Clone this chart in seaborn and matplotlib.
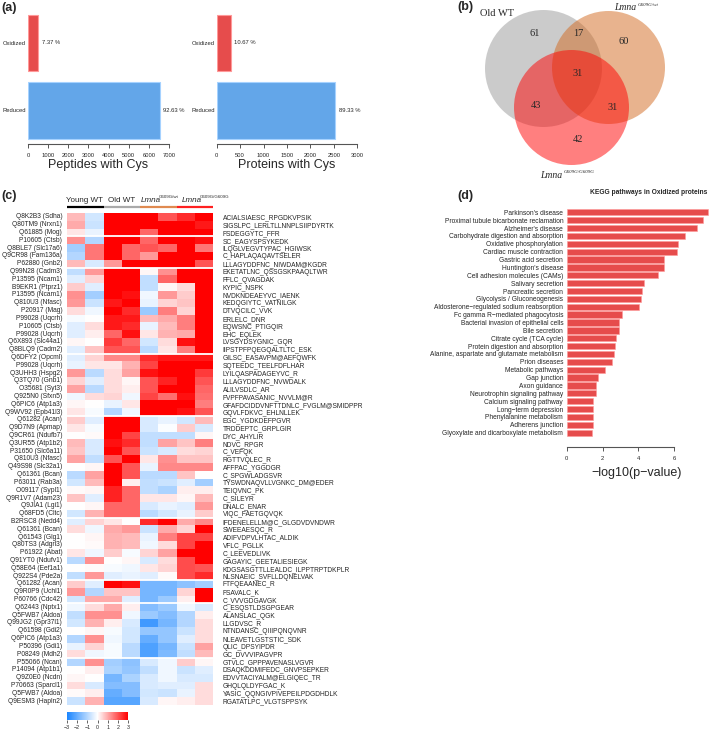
import numpy as np
import pandas as pd
import matplotlib
matplotlib.use("Agg")
import matplotlib.pyplot as plt
from matplotlib.colors import LinearSegmentedColormap
from matplotlib.patches import Circle
import seaborn as sns

# ---------------- data ----------------
states = ["Oxidized", "Reduced"]
peptides_cys = [520, 6535]
proteins_cys = [302, 2529]
peptides_pct = ["7.37 %", "92.63 %"]
proteins_pct = ["10.67 %", "89.33 %"]

venn_counts = {"old": 61, "old_het": 17, "het": 60, "all": 31,
               "old_hom": 43, "het_hom": 31, "hom": 42}

groups = ["Young WT", "Old WT", "Lmna G609G/wt", "Lmna G609G/G609G"]

row_labels = [
    "Q8K2B3 (Sdha)", "Q80TM9 (Nrxn1)", "Q61885 (Mog)", "P10605 (Ctsb)",
    "Q8BLE7 (Slc17a6)", "Q9CR98 (Fam136a)", "P62880 (Gnb2)", "Q99N28 (Cadm3)",
    "P13595 (Ncam1)", "B9EKR1 (Ptprz1)", "P13595 (Ncam1)", "Q810U3 (Nfasc)",
    "P20917 (Mag)", "P99028 (Uqcrh)", "P10605 (Ctsb)", "P99028 (Uqcrh)",
    "Q6X893 (Slc44a1)", "Q8BLQ9 (Cadm2)", "Q6DFY2 (Opcml)", "P99028 (Uqcrh)",
    "Q3UHH3 (Hspg2)", "Q3TQ70 (Gnb1)", "O35681 (Syt3)", "Q925N0 (Sfxn5)",
    "Q6PIC6 (Atp1a3)", "Q9WV92 (Epb41l3)", "Q61282 (Acan)", "Q9D7N9 (Apmap)",
    "Q9CR61 (Ndufb7)", "Q3UR55 (Atp1b2)", "P31650 (Slc6a11)", "Q810U3 (Nfasc)",
    "Q49S98 (Slc32a1)", "Q61361 (Bcan)", "P63011 (Rab3a)", "O09117 (Sypl1)",
    "Q9R1V7 (Adam23)", "Q9JIA1 (Lgi1)", "Q68FD5 (Cltc)", "B2RSC8 (Nedd4)",
    "Q61361 (Bcan)", "Q61543 (Glg1)", "Q80TS3 (Adgrl3)", "P61922 (Abat)",
    "Q91YT0 (Ndufv1)", "Q58E64 (Eef1a1)", "Q922S4 (Pde2a)", "Q61282 (Acan)",
    "Q9R0P9 (Uchl1)", "P60766 (Cdc42)", "Q62443 (Nptx1)", "Q5FWB7 (Aldoa)",
    "Q99JG2 (Gpr37l1)", "Q61598 (Gdi2)", "Q6PIC6 (Atp1a3)", "P50396 (Gdi1)",
    "P08249 (Mdh2)", "P55066 (Ncan)", "P14094 (Atp1b1)", "Q9Z0E0 (Ncdn)",
    "P70663 (Sparcl1)", "Q5FWB7 (Aldoa)", "Q9ESM3 (Hapln2)"]

peptide_labels = [
    "ACIALSIAESC_RPGDKVPSIK", "SIGSLPC_LERLTLLNNPLSIIPDYRTK", "FSDEGGYTC_FFR",
    "SC_EAGYSPSYKEDK", "ILQGLVEGVTYPAC_HGIWSK", "C_HAPLAQAQAVTSELER",
    "LLLAGYDDFNC_NIWDAM@KGDR", "EKETATLNC_QSSGSKPAAQLTWR", "FFLC_QVAGDAK",
    "KYPIC_NSPK", "NVDKNDEAEYVC_IAENK", "KEDQGIYTC_VATNILGK", "DTVQCILC_VVK",
    "ERLELC_DNR", "EQWSNC_PTIGQIR", "EHC_EQLEK", "LVSGYDSYGNIC_GQR",
    "IIPSTPFPQEGQALTLTC_ESK", "GILSC_EASAVPM@AEFQWFK", "SQTEEDC_TEELFDFLHAR",
    "LYILQASPADAGEYVC_R", "LLLAGYDDFNC_NVWDALK", "ALILVSDLC_AR",
    "FVPFPAVASANIC_NVVLM@R", "GFAFDCIDDVNFTTDNLC_FVGLM@SMIDPPR",
    "GQVLFDKVC_EHLNLLEK", "EGC_YGDKDEFPGVR", "TRDDEPTC_GRPLGIR", "DYC_AHYLIR",
    "NDVC_RPGR", "C_VEFQK", "RGTTVQLEC_R", "AFFPAC_YGGDGR", "C_SPGWLADGSVR",
    "TYSWDNAQVLLVGNKC_DM@EDER", "TEIQVNC_PK", "C_SILEYR", "DNALC_ENAR",
    "VIQC_FAETGQVQK", "IFDENELELLM@C_GLGDVDVNDWR", "SWEEAESQC_R",
    "ADIFVDPVLHTAC_ALDIK", "VFLC_PGLLK", "C_LEEVEDLIVK", "GAGAYIC_GEETALIESIEGK",
    "KDGSASGTTLLEALDC_ILPPTRPTDKPLR", "NLSNAEIC_SVFLLDQNELVAK", "FTFQEAANEC_R",
    "FSAVALC_K", "C_VVVGDGAVGK", "C_ESQSTLDSGPGEAR", "ALANSLAC_QGK", "LLGDVSC_R",
    "NTNDANSC_QIIIPQNQVNR", "NLEAVETLGSTSTIC_SDK", "QLIC_DPSYIPDR",
    "GC_DVVVIPAGVPR", "GTVLC_GPPPAVENASLVGVR", "DSAQKDDMIFEDC_GNVPSEPKER",
    "EDVVTACIYALM@ELGIQEC_TR", "GHQLQLDYFGAC_K", "YASIC_QQNGIVPIVEPEILPDGDHDLK",
    "RGATATLPC_VLGTSPPSYK"]

zscore_rows = [
    [0.8, -0.6, 3, 3, 3, 2, 2.5, 3], [1, -0.7, 3, 3, 3, 3, 3, 2.7],
    [0.3, -0.3, 3, 3, 1.8, 3, 3, 3], [1.3, -1, 3, 3, 1.8, 3, 3, 2.8],
    [-1.2, 1.6, 3, 1.8, 2, 1.8, 3, 1.6], [-1, 1.6, 3, 1.8, 1.2, 3, 3, 3],
    [0.8, -0.5, 1.2, 3, 3, 3, 3, 2], [-0.8, 1.2, 3, 3, 0.1, 1.3, 3, 3],
    [-0.4, 0.5, 3, 3, -0.8, 1.8, 3, 3], [0.6, -0.4, 3, 3, -0.8, 0.1, 0.4, 3],
    [1.3, -1.2, 3, 2.8, -0.2, 1.2, 0.6, 3], [1.2, -0.7, 2.7, 3, -0.3, 0.5, 0.7, 3],
    [0.4, -0.2, 3, 2.5, -1.3, 1.5, 0.5, 3], [-0.1, 0, 2.7, 2.7, 0.8, 1, 1.5, 3],
    [-0.4, 0.4, 2.7, 2.5, -0.3, 0.8, 1.5, 3], [-0.4, 0.2, 1.8, 2.8, 0.3, 0.9, 1, 3],
    [0.1, 0, 2.3, 1.8, -0.6, 0.4, 2.8, 3], [-0.4, 0.7, 2, 2, -0.9, 0.3, 1.5, 3],
    [-0.4, 0.5, 1.4, 1.4, 2.5, 2.7, 2.7, 2.7], [-0.3, 0.3, 0.3, 0.9, 2.2, 3, 3, 3],
    [1.2, -0.9, 0.4, 1.1, 2.8, 3, 3, 2.3], [0.5, -0.4, 0.4, 0.1, 2, 2.6, 3, 2],
    [1.1, -0.9, 0.4, 0.2, 2, 3, 3, 1.8], [-0.2, 0.4, 0.5, -0.2, 2.2, 1.7, 2.8, 1.7],
    [0.1, 0, -0.3, 0.3, 3, 3, 3, 1.5], [0.3, -0.1, -1, -0.2, 3, 3, 2.8, 2],
    [0.6, -0.4, 3, 3, -0.5, -0.3, -0.6, 0.8], [0.3, -0.1, 3, 3, -0.5, -0.05, 0.6, -0.5],
    [0, 0.05, 3, 2.2, -0.8, -0.8, -0.8, 0.1], [0.8, -0.5, 2.8, 2.5, -0.8, 1.1, 0.7, 1.5],
    [0.7, -0.5, 3, 2, -0.7, -0.5, 0.4, 0.5], [1.1, -0.8, 2, 3, 0.3, 1.3, 0.7, 0.7],
    [0, 0.1, 3, 2, -0.3, 1.4, 1.4, 1.4], [-0.9, 1.1, 3, 2, -0.9, -0.9, 0.7, 0],
    [-0.6, 0.8, 3, 0.2, -0.8, -0.7, -0.4, -1.2], [0.05, 0.1, 2.6, 1.8, -0.8, -1.1, 0.2, 0.2],
    [0.7, -0.4, 2.6, 1.8, 0.3, 0.3, 0.1, 0.8], [0, 0.1, 1.8, 1.8, -0.5, -0.3, -0.4, 1.2],
    [-0.6, 0.9, 1.8, 1.8, -0.9, -0.6, -0.3, 0.6], [-0.4, 0.5, 0.3, 0, 2.5, 3, 1, 1.4],
    [0.4, -0.2, 1, 1.2, -0.7, 1, 0.5, 3], [0, 0.1, 0.9, 0.8, -0.3, 1.5, 2.2, 2.2],
    [0, 0.05, 0.9, 0.8, -0.2, 0.4, 2.2, 3], [0.3, -0.2, 0.6, -0.1, 0.5, 1.1, 3, 3],
    [-0.9, 1.3, 0, 0.1, -0.5, 0.4, 2.1, 3], [0, 0.05, -0.1, -0.2, 0.3, 0.5, 2.1, 2],
    [-0.8, 1.2, -0.4, -0.3, -0.4, 0.05, 2.1, 2.5], [0.6, -0.4, 3, 2.8, -1.8, -1.8, -1.5, -1.2],
    [1.2, -1, 0.7, 0.7, -1.8, -1.8, 0.5, 3], [-0.6, 1, 1, -0.4, -1.8, -1.3, 0.2, 3],
    [-0.2, 0.4, 1, 0.2, -1.6, -1.3, -0.2, -0.5], [-0.8, 1.3, 1.3, -0.2, -1.3, -1.6, -1, 0.2],
    [-0.6, 0.9, 0.2, -0.5, -2.5, -1.8, -1, 0.4], [0, 0.1, -0.1, -0.6, -1.4, -1.4, -0.7, 0.4],
    [-1, 1.3, -0.2, -0.6, -2, -1.4, -0.4, 0.4], [-0.3, 0.5, -0.1, -0.9, -2.3, -1.8, -0.7, 1.1],
    [0.4, -0.2, -0.1, -0.9, -2.3, -1.7, -0.8, 0.8], [-1, 1.3, -1.2, -1.5, -0.5, -0.2, 0.6, 0.1],
    [0, 0.2, -1.1, -1.4, -0.8, -0.2, -0.7, -0.4], [0.1, 0, -1.8, -1.1, -0.5, -0.2, -0.5, -0.5],
    [0.4, -0.5, -1.6, -1.6, -0.5, -0.4, -0.4, 0.4], [0.05, 0.2, -2, -1.6, -0.6, -0.7, -0.3, 0.4],
    [-0.7, 0.9, -2.2, -2.2, -0.5, 0.1, 0.2, 0.4]]
cluster_breaks = [3, 7, 18, 26, 39, 47, 50, 57]

pathways = [
    "Parkinson's disease", "Proximal tubule bicarbonate reclamation",
    "Alzheimer's disease", "Carbohydrate digestion and absorption",
    "Oxidative phosphorylation", "Cardiac muscle contraction",
    "Gastric acid secretion", "Huntington's disease",
    "Cell adhesion molecules (CAMs)", "Salivary secretion",
    "Pancreatic secretion", "Glycolysis / Gluconeogenesis",
    "Aldosterone\u2212regulated sodium reabsorption",
    "Fc gamma R\u2212mediated phagocytosis",
    "Bacterial invasion of epithelial cells", "Bile secretion",
    "Citrate cycle (TCA cycle)", "Protein digestion and absorption",
    "Alanine, aspartate and glutamate metabolism", "Prion diseases",
    "Metabolic pathways", "Gap junction", "Axon guidance",
    "Neurotrophin signaling pathway", "Calcium signaling pathway",
    "Long\u2212term depression", "Phenylalanine metabolism",
    "Adherens junction", "Glyoxylate and dicarboxylate metabolism"]
neg_log_p = [7.9, 7.59, 7.26, 6.61, 6.2, 6.13, 5.41, 5.41, 5.07, 4.33, 4.2,
             4.14, 4.03, 3.08, 2.9, 2.9, 2.75, 2.69, 2.66, 2.55, 2.14, 1.77, 1.63,
             1.63, 1.48, 1.46, 1.44, 1.44, 1.41]

# ---------------- style ----------------
sns.set_style("white")
plt.rcParams['font.family'] = ['Liberation Sans', 'DejaVu Sans']

W, H = 709, 732
fig = plt.figure(figsize=(W / 100, H / 100), dpi=100)


def rect(x0, y0, x1, y1):
    return [x0 / W, 1 - y1 / H, (x1 - x0) / W, (y1 - y0) / H]


def ftext(x, y, s, **kw):
    fig.text(x / W, 1 - y / H, s, **kw)


RED = "#FF3333"
BLUE = "#4DA6FF"

# ---------------- panel a ----------------
for (x0, x1, vals, pcts, xmax, step, lab) in [
        (28, 169, peptides_cys, peptides_pct, 7000, 1000, "Peptides with Cys"),
        (216.7, 357.3, proteins_cys, proteins_pct, 3000, 500, "Proteins with Cys")]:
    ax = fig.add_axes(rect(x0, 9.25, x1, 144.25))
    df = pd.DataFrame({"state": states, "count": vals})
    sns.barplot(data=df, x="count", y="state", hue="state",
                palette=[RED, BLUE], width=0.83, ax=ax, legend=False,
                linewidth=0.8)
    for patch, ec in zip(ax.patches, ["#FF9999", "#A6D2FF"]):
        patch.set_edgecolor(ec)
    ax.set_xlim(0, xmax)
    ax.set_ylim(1.5, -0.5)
    for s in ["left", "top", "right"]:
        ax.spines[s].set_visible(False)
    ax.spines["bottom"].set_color("#555555")
    ax.spines["bottom"].set_linewidth(0.8)
    ax.set_xticks(np.arange(0, xmax + 1, step))
    ax.tick_params(axis="x", labelsize=4.2, length=3, width=0.7,
                   color="#555555", pad=3, bottom=True)
    ax.tick_params(axis="y", labelsize=4.2, length=0, pad=1.5)
    ax.set_ylabel("")
    ax.set_xlabel(lab, fontsize=9)
    ax.xaxis.set_label_coords(0.5, -(165 - 144.25) / 135)
    ax.xaxis.label.set_va("center")
    for i, (v, p) in enumerate(zip(vals, pcts)):
        ax.annotate(p, xy=(v, i), xytext=(2.5, 0), textcoords="offset points",
                    va="center", ha="left", fontsize=4.2)

ftext(1, 8, "(a)", fontsize=9, fontweight="bold", va="center", ha="left")
ftext(1, 196, "(c)", fontsize=9, fontweight="bold", va="center", ha="left")
ftext(457, 7, "(b)", fontsize=9, fontweight="bold", va="center", ha="left")
ftext(457, 196, "(d)", fontsize=9, fontweight="bold", va="center", ha="left")

# ---------------- panel b (Venn) ----------------
axv = fig.add_axes(rect(470, 0, 709, 185))
axv.set_xlim(470, 709)
axv.set_ylim(185, 0)
axv.axis("off")
axv.add_patch(Circle((543.5, 68.5), 58.5, facecolor="#999999", alpha=0.5, lw=0))
axv.add_patch(Circle((608.5, 67.5), 56.5, facecolor="#D2691E", alpha=0.5, lw=0))
axv.add_patch(Circle((571.5, 107.5), 57.5, facecolor="#FF0000", alpha=0.5, lw=0))
venn_pos = {"old": (535, 34), "old_het": (578, 34), "het": (624, 41),
            "all": (578, 73), "old_hom": (536, 105), "het_hom": (613, 107),
            "hom": (578, 140)}
for k, (x, y) in venn_pos.items():
    axv.text(x, y, str(venn_counts[k]), ha="center", va="center",
             fontsize=7.5, family="Liberation Serif")
axv.text(497, 14, "Old WT", ha="center", va="center", fontsize=7.5,
         family="Liberation Serif")
axv.text(636.5, 7.5, "Lmna", ha="right", va="center", fontsize=7,
         family="Liberation Serif", style="italic")
axv.text(638, 4.5, "G609G/wt", ha="left", va="center", fontsize=3.6,
         family="Liberation Serif", style="italic")
axv.text(562.5, 175, "Lmna", ha="right", va="center", fontsize=7,
         family="Liberation Serif", style="italic")
axv.text(564, 172, "G609G/G609G", ha="left", va="center", fontsize=3.6,
         family="Liberation Serif", style="italic")

# ---------------- panel c (heatmap) ----------------
cmap = LinearSegmentedColormap.from_list("bwr_c", ["#1A85FF", "#FFFFFF", "#FF0000"])
heat = pd.DataFrame(zscore_rows, index=row_labels)
axh = fig.add_axes(rect(67, 213, 213, 705))
cax = fig.add_axes(rect(67, 712, 128, 720))
sns.heatmap(heat, cmap=cmap, vmin=-3, vmax=3, ax=axh, cbar_ax=cax,
            cbar_kws={"orientation": "horizontal", "ticks": [-3, -2, -1, 0, 1, 2, 3]},
            xticklabels=False, yticklabels=row_labels)
axh.tick_params(axis="y", labelsize=4.8, length=0, pad=3.5)
axh.set_ylabel("")
for b in cluster_breaks:
    axh.axhline(b, color="white", lw=1.3)
n = len(row_labels)
ax2 = axh.twinx()
ax2.set_ylim(axh.get_ylim())
ax2.set_yticks(np.arange(n) + 0.5)
ax2.set_yticklabels(peptide_labels)
ax2.tick_params(axis="y", labelsize=4.8, length=0, pad=7)
for s in ax2.spines.values():
    s.set_visible(False)
line_cols = ["black", "#AAAAAA", "#E08A50", "#FF2020"]
for g in range(4):
    axh.plot([2 * g, 2 * g + 2], [-0.8, -0.8], color=line_cols[g], lw=1.6,
             clip_on=False, solid_capstyle="butt")
# group headers
ftext(84, 200, groups[0], fontsize=5.8, ha="center", va="center")
ftext(122, 200, groups[1], fontsize=5.8, ha="center", va="center")
for (xl, sup) in [(140.5, "G609G/wt"), (181.5, "G609G/G609G")]:
    ftext(xl, 200, "Lmna", fontsize=5.8, style="italic", ha="left", va="center")
    ftext(xl + 18.5, 196.5, sup, fontsize=3.2, ha="left", va="center")
cax.tick_params(labelsize=3.8, length=2, width=0.5, pad=1.5)
for s in cax.spines.values():
    s.set_visible(False)
cb = axh.collections[0].colorbar
if cb is not None:
    cb.outline.set_visible(False)

# ---------------- panel d (KEGG) ----------------
axd = fig.add_axes(rect(566.7, 208.4, 709, 447.3))
kegg = pd.DataFrame({"pathway": pathways, "score": neg_log_p})
sns.barplot(data=kegg, x="score", y="pathway", color=RED, width=0.8,
            ax=axd, edgecolor="#FF9999", linewidth=0.4)
axd.set_xlim(0, (709 - 566.7) / 17.93)
axd.set_ylim(29.86, -0.5)
for s in ["left", "top", "right"]:
    axd.spines[s].set_visible(False)
axd.spines["bottom"].set_bounds(0, 6)
axd.spines["bottom"].set_color("#555555")
axd.spines["bottom"].set_linewidth(0.8)
axd.set_xticks([0, 2, 4, 6])
axd.tick_params(axis="x", labelsize=4.2, length=3, width=0.7, color="#555555",
                pad=3, bottom=True)
axd.tick_params(axis="y", labelsize=4.8, length=0, pad=2.5)
axd.set_ylabel("")
axd.set_xlabel("\u2212log10(p\u2212value)", fontsize=9)
axd.xaxis.set_label_coords((637 - 566.7) / (709 - 566.7),
                           -(473 - 447.3) / (447.3 - 208.4))
axd.xaxis.label.set_va("center")
ftext(707.5, 193, "KEGG pathways in Oxidized proteins", fontsize=4.8,
      fontweight="bold", ha="right", va="center")

fig.savefig("out.png", dpi=100)
